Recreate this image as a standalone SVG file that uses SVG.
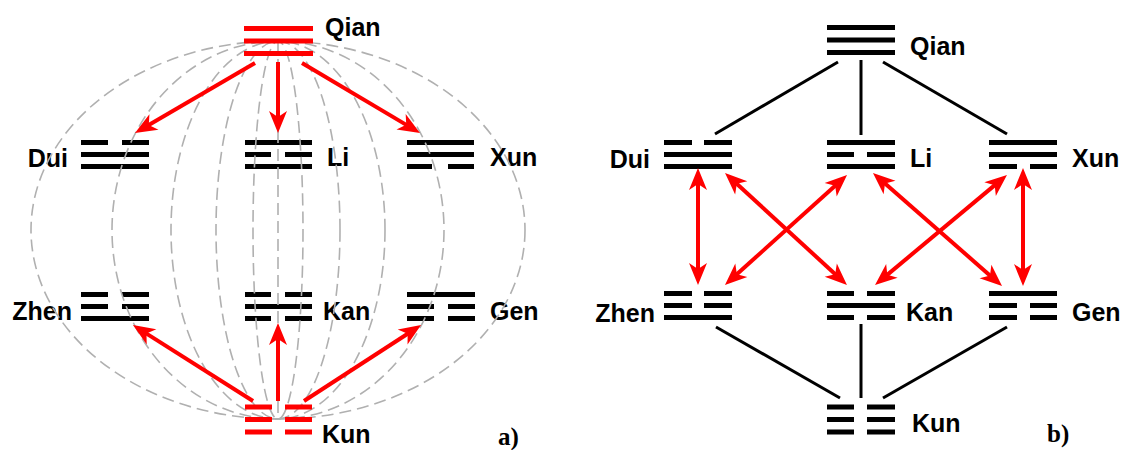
<svg xmlns="http://www.w3.org/2000/svg" width="1124" height="450" viewBox="0 0 1124 450">
<defs>
<style>
.lb{font-family:"Liberation Sans",Arial,sans-serif;font-weight:bold;font-size:25px;fill:#000}
.pl{font-family:"Liberation Serif","Times New Roman",serif;font-weight:bold;font-size:25px;fill:#000}
.k rect{fill:#000}
.r rect{fill:#ff0000}
.guide{fill:none;stroke:#b0b0b0;stroke-width:1.6;stroke-dasharray:12 6}
.ra{stroke:#ff0000;stroke-width:4;fill:none}
.bl{stroke:#000;stroke-width:3;fill:none}
</style>
<marker id="ah" viewBox="-14 -10 26 20" refX="0" refY="0" markerWidth="26" markerHeight="20" markerUnits="userSpaceOnUse" orient="auto-start-reverse">
<path d="M10,0 L-12,-9 L-6,0 L-12,9 Z" fill="#ff0000"/>
</marker>
</defs>
<rect width="1124" height="450" fill="#fff"/>

<!-- Panel a: black trigrams -->
<g id="a-dui" class="k">
<rect x="81" y="140" width="27" height="5"/><rect x="122" y="140" width="27" height="5"/>
<rect x="81" y="152" width="68" height="5"/>
<rect x="81" y="164" width="68" height="5"/>
<text class="lb" x="68" y="167" text-anchor="end">Dui</text>
</g>
<g id="a-li" class="k">
<rect x="245" y="140" width="67" height="5"/>
<rect x="245" y="152" width="26" height="5"/><rect x="285" y="152" width="27" height="5"/>
<rect x="245" y="164" width="67" height="5"/>
<text class="lb" x="327" y="166">Li</text>
</g>
<g id="a-xun" class="k">
<rect x="407" y="140" width="67" height="5"/>
<rect x="407" y="152" width="67" height="5"/>
<rect x="407" y="164" width="25" height="5"/><rect x="448" y="164" width="26" height="5"/>
<text class="lb" x="490" y="166">Xun</text>
</g>
<g id="a-zhen" class="k">
<rect x="81" y="292" width="27" height="5"/><rect x="122" y="292" width="27" height="5"/>
<rect x="81" y="304" width="27" height="5"/><rect x="122" y="304" width="27" height="5"/>
<rect x="81" y="316" width="68" height="5"/>
<text class="lb" x="72" y="320" text-anchor="end">Zhen</text>
</g>
<g id="a-kan" class="k">
<rect x="245" y="292" width="26" height="5"/><rect x="285" y="292" width="27" height="5"/>
<rect x="245" y="304" width="67" height="5"/>
<rect x="245" y="316" width="26" height="5"/><rect x="285" y="316" width="27" height="5"/>
<text class="lb" x="323" y="320">Kan</text>
</g>
<g id="a-gen" class="k">
<rect x="407" y="292" width="68" height="5"/>
<rect x="407" y="304" width="27" height="5"/><rect x="448" y="304" width="27" height="5"/>
<rect x="407" y="316" width="27" height="5"/><rect x="448" y="316" width="27" height="5"/>
<text class="lb" x="490" y="320">Gen</text>
</g>

<!-- Panel a: dashed guide ellipses -->
<g id="a-guides">
<ellipse class="guide" cx="278" cy="230" rx="247" ry="189"/>
<ellipse class="guide" cx="278" cy="230" rx="166" ry="189"/>
<ellipse class="guide" cx="278" cy="230" rx="107" ry="189"/>
<ellipse class="guide" cx="278" cy="230" rx="62" ry="189"/>
<ellipse class="guide" cx="278" cy="230" rx="25" ry="189"/>
<line class="guide" x1="278" y1="41" x2="278" y2="419"/>
</g>

<!-- Panel a: red trigrams -->
<g id="a-qian" class="r">
<rect x="244" y="26" width="69" height="5"/>
<rect x="244" y="38.5" width="69" height="5"/>
<rect x="244" y="51" width="69" height="5"/>
<text class="lb" x="325" y="36">Qian</text>
</g>
<g id="a-kun" class="r">
<rect x="245" y="404.5" width="27" height="5"/><rect x="285" y="404.5" width="27" height="5"/>
<rect x="245" y="417" width="27" height="5"/><rect x="285" y="417" width="27" height="5"/>
<rect x="245" y="429.5" width="27" height="5"/><rect x="285" y="429.5" width="27" height="5"/>
<text class="lb" x="322" y="443">Kun</text>
</g>

<!-- Panel a: connectors -->
<g id="a-connectors">
<line class="ra" x1="255" y1="63" x2="143.6" y2="128" marker-end="url(#ah)"/>
<line class="ra" x1="278" y1="62" x2="278" y2="123" marker-end="url(#ah)"/>
<line class="ra" x1="302" y1="63" x2="411.4" y2="127.9" marker-end="url(#ah)"/>
<line class="ra" x1="253" y1="401" x2="141.4" y2="330.4" marker-end="url(#ah)"/>
<line class="ra" x1="278" y1="401" x2="278" y2="333" marker-end="url(#ah)"/>
<line class="ra" x1="304" y1="401" x2="412.7" y2="330.5" marker-end="url(#ah)"/>
</g>
<text class="pl" x="498" y="445">a)</text>

<!-- Panel b: trigrams -->
<g id="b-qian" class="k">
<rect x="827" y="25" width="68" height="5"/>
<rect x="827" y="37.5" width="68" height="5"/>
<rect x="827" y="50" width="68" height="5"/>
<text class="lb" x="910" y="55">Qian</text>
</g>
<g id="b-dui" class="k">
<rect x="664" y="140" width="28" height="5"/><rect x="704" y="140" width="28" height="5"/>
<rect x="664" y="152" width="68" height="5"/>
<rect x="664" y="164" width="68" height="5"/>
<text class="lb" x="650" y="168" text-anchor="end">Dui</text>
</g>
<g id="b-li" class="k">
<rect x="827" y="140" width="68" height="5"/>
<rect x="827" y="152" width="27" height="5"/><rect x="867" y="152" width="28" height="5"/>
<rect x="827" y="164" width="68" height="5"/>
<text class="lb" x="910" y="167">Li</text>
</g>
<g id="b-xun" class="k">
<rect x="989" y="140" width="68" height="5"/>
<rect x="989" y="152" width="68" height="5"/>
<rect x="989" y="164" width="28" height="5"/><rect x="1030" y="164" width="27" height="5"/>
<text class="lb" x="1072" y="167">Xun</text>
</g>
<g id="b-zhen" class="k">
<rect x="664" y="291" width="28" height="5"/><rect x="704" y="291" width="28" height="5"/>
<rect x="664" y="303" width="28" height="5"/><rect x="704" y="303" width="28" height="5"/>
<rect x="664" y="315" width="68" height="5"/>
<text class="lb" x="655" y="322" text-anchor="end">Zhen</text>
</g>
<g id="b-kan" class="k">
<rect x="827" y="291" width="27" height="5"/><rect x="867" y="291" width="28" height="5"/>
<rect x="827" y="303" width="68" height="5"/>
<rect x="827" y="315" width="27" height="5"/><rect x="867" y="315" width="28" height="5"/>
<text class="lb" x="906" y="321">Kan</text>
</g>
<g id="b-gen" class="k">
<rect x="989" y="291" width="68" height="5"/>
<rect x="989" y="303" width="28" height="5"/><rect x="1030" y="303" width="27" height="5"/>
<rect x="989" y="315" width="28" height="5"/><rect x="1030" y="315" width="27" height="5"/>
<text class="lb" x="1072" y="321">Gen</text>
</g>
<g id="b-kun" class="k">
<rect x="827" y="404.5" width="27" height="5"/><rect x="867" y="404.5" width="28" height="5"/>
<rect x="827" y="417" width="27" height="5"/><rect x="867" y="417" width="28" height="5"/>
<rect x="827" y="429.5" width="27" height="5"/><rect x="867" y="429.5" width="28" height="5"/>
<text class="lb" x="912" y="432">Kun</text>
</g>

<!-- Panel b: connectors -->
<g id="b-connectors">
<line class="bl" x1="838" y1="62" x2="715" y2="134"/>
<line class="bl" x1="861" y1="60" x2="861" y2="135"/>
<line class="bl" x1="883" y1="62" x2="1007" y2="134"/>
<line class="bl" x1="716" y1="327" x2="840" y2="398"/>
<line class="bl" x1="861" y1="324" x2="861" y2="398"/>
<line class="bl" x1="1007" y1="327" x2="883" y2="398"/>
<line class="ra" x1="698" y1="178" x2="698" y2="275" marker-start="url(#ah)" marker-end="url(#ah)"/>
<line class="ra" x1="732.4" y1="179.8" x2="839.6" y2="278.2" marker-start="url(#ah)" marker-end="url(#ah)"/>
<line class="ra" x1="839.6" y1="181.7" x2="732.4" y2="278.3" marker-start="url(#ah)" marker-end="url(#ah)"/>
<line class="ra" x1="880.5" y1="179.6" x2="994.5" y2="279.4" marker-start="url(#ah)" marker-end="url(#ah)"/>
<line class="ra" x1="999.3" y1="181.4" x2="882.7" y2="278.6" marker-start="url(#ah)" marker-end="url(#ah)"/>
<line class="ra" x1="1023" y1="178" x2="1023" y2="276" marker-start="url(#ah)" marker-end="url(#ah)"/>
</g>
<text class="pl" x="1047" y="442">b)</text>
</svg>
